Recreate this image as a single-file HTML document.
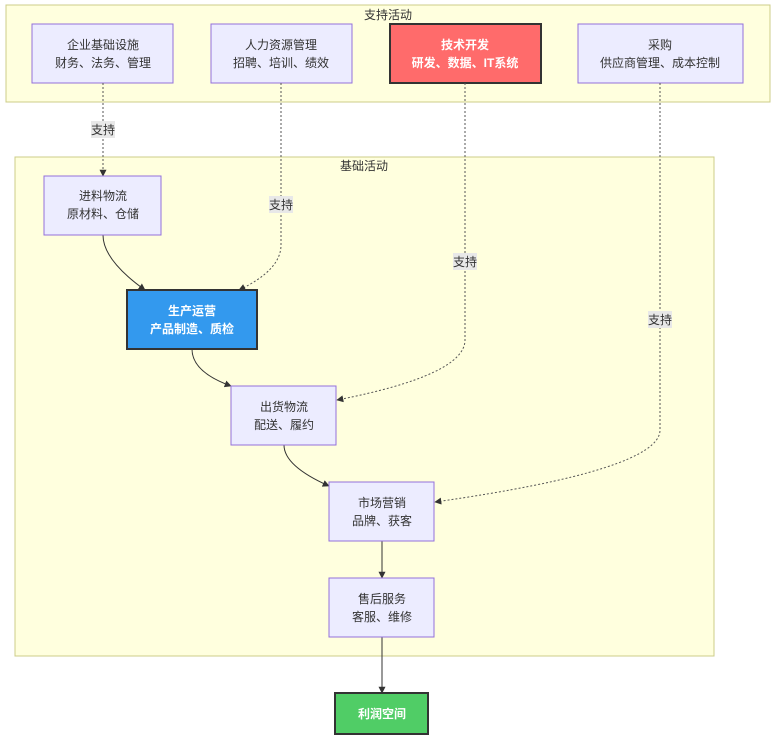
<!DOCTYPE html>
<html><head><meta charset="utf-8"><style>
body{margin:0;background:#fff}
svg text{font-family:"Liberation Sans","Noto Sans CJK SC",sans-serif;font-size:12px;fill:#333;text-anchor:middle}
.n{fill:#ececff;stroke:#9370db;stroke-width:1}
.w{fill:#fff;font-weight:bold}
.d{fill:none;stroke:#555;stroke-width:1;stroke-dasharray:2,2}
.s{fill:none;stroke:#333;stroke-width:1}
.lb{fill:#e8e8e8}
</style></head><body>
<svg width="784" height="748" viewBox="0 0 784 748" xmlns="http://www.w3.org/2000/svg">
<defs><marker id="a" viewBox="0 0 10 10" refX="9" refY="5" markerWidth="7" markerHeight="7" orient="auto"><path d="M0,0L10,5L0,10z" fill="#333"/></marker></defs>
<rect x="6" y="5" width="764" height="97" fill="#ffffde" stroke="#cccc88"/>
<text x="388" y="19">支持活动</text>
<rect x="15" y="157" width="699" height="499" fill="#ffffde" stroke="#cccc88"/>
<text x="364" y="170">基础活动</text>

<rect class="n" x="32" y="24" width="141" height="59"/>
<text x="103" y="49">企业基础设施</text><text x="103" y="67">财务、法务、管理</text>
<rect class="n" x="211" y="24" width="141" height="59"/>
<text x="281" y="49">人力资源管理</text><text x="281" y="67">招聘、培训、绩效</text>
<rect x="390" y="24" width="151" height="59" fill="#ff6b6b" stroke="#333" stroke-width="2"/>
<text class="w" x="465" y="49">技术开发</text><text class="w" x="465" y="67">研发、数据、IT系统</text>
<rect class="n" x="578" y="24" width="165" height="59"/>
<text x="660" y="49">采购</text><text x="660" y="67">供应商管理、成本控制</text>

<path class="d" d="M103,83V176" marker-end="url(#a)"/>
<path class="d" d="M281,83V245Q281,270 239,290" marker-end="url(#a)"/>
<path class="d" d="M465,83V340Q465,375 337,400" marker-end="url(#a)"/>
<path class="d" d="M660,83V430Q660,470 435,502" marker-end="url(#a)"/>
<path class="s" d="M103,235Q103,260 145,290" marker-end="url(#a)"/>
<path class="s" d="M192,349Q192,372 231,386" marker-end="url(#a)"/>
<path class="s" d="M284,445Q284,466 329,486" marker-end="url(#a)"/>
<path class="s" d="M382,541V578" marker-end="url(#a)"/>
<path class="s" d="M382,637V693" marker-end="url(#a)"/>

<rect class="lb" x="91" y="121" width="24" height="17"/><text x="103" y="134">支持</text>
<rect class="lb" x="269" y="196" width="24" height="17"/><text x="281" y="209">支持</text>
<rect class="lb" x="453" y="253" width="24" height="17"/><text x="465" y="266">支持</text>
<rect class="lb" x="648" y="311" width="24" height="17"/><text x="660" y="324">支持</text>

<rect class="n" x="44" y="176" width="117" height="59"/>
<text x="103" y="200">进料物流</text><text x="103" y="218">原材料、仓储</text>
<rect x="127" y="290" width="130" height="59" fill="#3399ee" stroke="#333" stroke-width="2"/>
<text class="w" x="192" y="315">生产运营</text><text class="w" x="192" y="333">产品制造、质检</text>
<rect class="n" x="231" y="386" width="105" height="59"/>
<text x="284" y="411">出货物流</text><text x="284" y="429">配送、履约</text>
<rect class="n" x="329" y="482" width="105" height="59"/>
<text x="382" y="507">市场营销</text><text x="382" y="525">品牌、获客</text>
<rect class="n" x="329" y="578" width="105" height="59"/>
<text x="382" y="603">售后服务</text><text x="382" y="621">客服、维修</text>
<rect x="335" y="693" width="93" height="41" fill="#50cd66" stroke="#333" stroke-width="2"/>
<text class="w" x="382" y="718">利润空间</text>
</svg>
</body></html>
